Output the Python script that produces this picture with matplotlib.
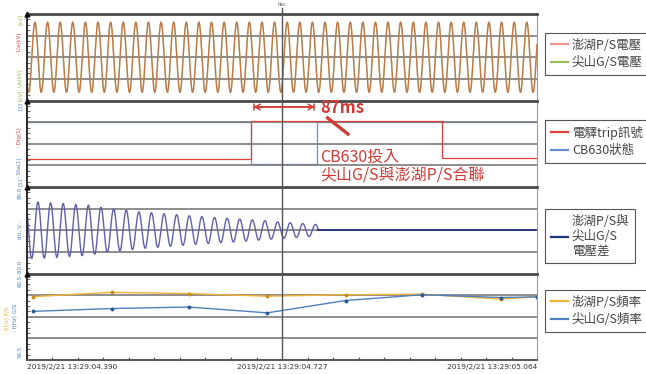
import numpy as np
import matplotlib.pyplot as plt
from matplotlib.lines import Line2D

plt.rcParams['font.family'] = ['Noto Sans CJK TC', 'DejaVu Sans']

# time axis, seconds after 13:29:00
t_start = 4.390
t_cursor = 4.727
t_end = 5.064
xtick_labels = ['2019/2/21 13:29:04.390', '2019/2/21 13:29:04.727', '2019/2/21 13:29:05.064']

# panel 1: bus voltages (60 Hz, in phase)
freq = 60.0
v_first_peak = 4.4005
v_amp = 1.62

# panel 3: voltage difference, peak amplitude of each cycle
dv_first_peak = 4.4045
dv_amps = [1.31, 1.27, 1.24, 1.19, 1.16, 1.06, 0.98, 0.93, 0.85, 0.81, 0.76, 0.72,
           0.67, 0.63, 0.59, 0.56, 0.52, 0.48, 0.44, 0.38, 0.35, 0.31, 0.27]
dv_stop = 4.775

# panel 2: relay trip signal and CB630 state
trip_t = [4.390, 4.686, 4.939, 5.064]
trip_v = [1.31, 3.05, 1.33, 1.33]
cb_t = [4.390, 4.686, 4.7735, 5.064]
cb_v = [3.0, 1.08, 3.0, 3.0]

# panel 4: frequencies (Hz)
f_t = [4.398, 4.502, 4.604, 4.7075, 4.811, 4.9125, 5.016, 5.064]
f_penghu = [59.986, 60.026, 60.014, 59.990, 60.004, 60.008, 59.964, 59.984]
f_jianshan = [59.850, 59.876, 59.890, 59.836, 59.950, 60.004, 59.978, 59.984]

red = '#e0403a'
green = '#9bbb59'
navy = '#22357a'
purple = '#5f5fae'
orange = '#f2b134'
blue = '#4f81bd'
ann_red = '#d23a36'

fig = plt.figure(figsize=(6.46, 3.74), dpi=100)
W, Hf = 646, 374
left, right = 27, 537
tops = [14, 100.5, 187, 273.5]
ph = 86.5
axes = []
for top in tops:
    ax = fig.add_axes([left / W, 1 - (top + ph) / Hf, (right - left) / W, ph / Hf])
    axes.append(ax)
ax1, ax2, ax3, ax4 = axes

ylims = [(-2, 2), (0, 4), (-2, 2), (59.4, 60.2)]
grids = [[-1, 0, 1], [1, 2, 3], [-1, 0, 1], [59.6, 59.8, 60.0]]
for i, ax in enumerate(axes):
    ax.set_xlim(t_start, t_end)
    ax.set_ylim(*ylims[i])
    ax.set_yticks(grids[i])
    lo, hi = ylims[i]
    ax.set_yticks(np.linspace(lo, hi, 17), minor=True)
    ax.tick_params(axis='y', which='major', length=0, labelleft=False)
    ax.tick_params(axis='y', which='minor', direction='in', length=2, width=0.6, color='#555')
    ax.grid(axis='y', color='#7a7a7a', lw=1.2)
    ax.set_axisbelow(True)
    ax.spines['top'].set_color('#4a4a4a')
    ax.spines['top'].set_linewidth(2.0)
    ax.spines['left'].set_color('#2a2a2a')
    ax.spines['left'].set_linewidth(1.4)
    ax.spines['right'].set_color('#999999')
    ax.spines['right'].set_linewidth(0.8)
    if i < 3:
        ax.spines['bottom'].set_visible(False)
        ax.set_xticks([])
    ax.axvline(t_cursor, color='#555555', lw=1.0, zorder=3)
    ax.plot([0], [1], marker='^', color='#111111', ms=3.5, transform=ax.transAxes, clip_on=False, zorder=6)

# bottom axis
ax4.spines['bottom'].set_color('#555555')
ax4.spines['bottom'].set_linewidth(1.4)
ax4.set_xticks([t_start, t_cursor, t_end])
ax4.set_xticklabels(xtick_labels, fontsize=5.3, color='#333333', family='DejaVu Sans')
for lbl, ha in zip(ax4.get_xticklabels(), ['left', 'center', 'right']):
    lbl.set_ha(ha)
ax4.set_xticks(np.linspace(t_start, t_end, 21), minor=True)
ax4.tick_params(axis='x', which='both', direction='in', length=2.5, width=0.8, color='#555', pad=3)

# panel 1
t = np.linspace(t_start, t_end, 4000)
wave = v_amp * np.cos(2 * np.pi * freq * (t - v_first_peak))
ax1.plot(t, wave, color=green, lw=1.0, label='尖山G/S電壓')
ax1.plot(t, wave, color=red, lw=1.0, alpha=0.55, label='澎湖P/S電壓')
ax1.axvline(t_cursor, ymin=1, ymax=1.07, color='#555555', lw=1.0, clip_on=False)
ax1.text(t_cursor, 2.33, 'Rec', fontsize=3.5, color='#666666', ha='center', va='bottom', family='DejaVu Sans')

# panel 2
ax2.plot(trip_t, trip_v, drawstyle='steps-post', color=red, lw=0.9, zorder=2, label='電驛trip訊號')
ax2.plot(cb_t, cb_v, drawstyle='steps-post', color='#6a8fd0', lw=0.9, zorder=0.4, label='CB630狀態')
ax2.annotate('', xy=(4.686, 3.70), xytext=(4.7736, 3.70),
             arrowprops=dict(arrowstyle='|-|,widthA=0.25,widthB=0.25', color=ann_red, lw=1.1))
ax2.annotate('', xy=(4.686, 3.70), xytext=(4.7736, 3.70),
             arrowprops=dict(arrowstyle='<->,head_length=0.35,head_width=0.2', color=ann_red, lw=1.1))
ax2.text(4.7776, 3.66, '87ms', fontsize=12, fontweight='bold', color=ann_red, ha='left', va='center')
ax2.plot([4.7855, 4.8159], [3.24, 2.40], color=ann_red, lw=2.4, solid_capstyle='butt', zorder=5)
ax2.text(4.7776, 1.39, 'CB630投入', fontsize=11.5, color=ann_red, ha='left', va='center', zorder=5)
ax2.text(4.7776, 0.51, '尖山G/S與澎湖P/S合聯', fontsize=11.5, color=ann_red, ha='left', va='center',
         zorder=5, clip_on=False)

# panel 3
t3 = np.linspace(t_start, dv_stop, 3000)
pk_times = dv_first_peak + np.arange(len(dv_amps)) / freq
env = np.interp(t3, pk_times, dv_amps)
ax3.plot(t3, env * np.cos(2 * np.pi * freq * (t3 - dv_first_peak)), color=purple, lw=1.0)
ax3.plot([dv_stop, t_end], [0, 0], color=navy, lw=1.3, label='澎湖P/S與\n尖山G/S\n電壓差')

# panel 4
ax4.plot(f_t, f_penghu, color=orange, lw=1.0, marker='o', ms=1.8, mfc='#c89010', mec='#c89010', label='澎湖P/S頻率')
ax4.plot(f_t, f_jianshan, color=blue, lw=1.0, marker='o', ms=1.8, mfc='#2a5a9a', mec='#2a5a9a', label='尖山G/S頻率')

# legends
leg_tops = [33, 120, 209, 290]
for ax, top, panel_top in zip(axes, leg_tops, tops):
    h, l = ax.get_legend_handles_labels()
    if ax is ax1:
        h, l = h[::-1], l[::-1]
    if ax is ax3:
        h = [Line2D([], [], color=navy, lw=1.6)]
    y_ax = 1 - (top - panel_top) / ph
    leg = ax.legend(h, l, loc='upper left', bbox_to_anchor=(1 + (545 - right) / (right - left), y_ax),
                    borderaxespad=0, fontsize=9, frameon=True, fancybox=False, framealpha=1,
                    edgecolor='#555555', handlelength=1.4, handletextpad=0.3, borderpad=0.45,
                    labelspacing=0.35)
    leg.get_frame().set_linewidth(0.8)
    for txt in leg.get_texts():
        txt.set_color('#444444')
        txt.set_multialignment('left')
    for ln in leg.get_lines():
        ln.set_linewidth(1.6)
        ln.set_marker('')

# rotated axis labels on the left
def side(x, y, s, c):
    fig.text(x / W, 1 - y / Hf, s, rotation=90, fontsize=4, color=c, ha='center', va='center',
             family='DejaVu Sans')

side(20, 19, '[kV]', green)
side(20, 44, '- Ua(kV)', red)
side(20, 78, 'Ua(kV)', green)
side(20, 95, '[kV]', green)
side(20, 106, '[1]', blue)
side(20, 138, '- Dig(1)', red)
side(20, 168, '- Sta(1)', blue)
side(20, 182, '[1]', blue)
side(20, 193, '80.0', blue)
side(20, 230, 'dU, V -', blue)
side(20, 267, '-80.0', blue)
side(20, 281, '60.5', blue)
side(8, 320, '- f(Hz) P/S', orange)
side(16, 318, '- f(Hz) G/S', blue)
side(20, 352, '59.5', blue)

fig.savefig('out.png', dpi=100)
